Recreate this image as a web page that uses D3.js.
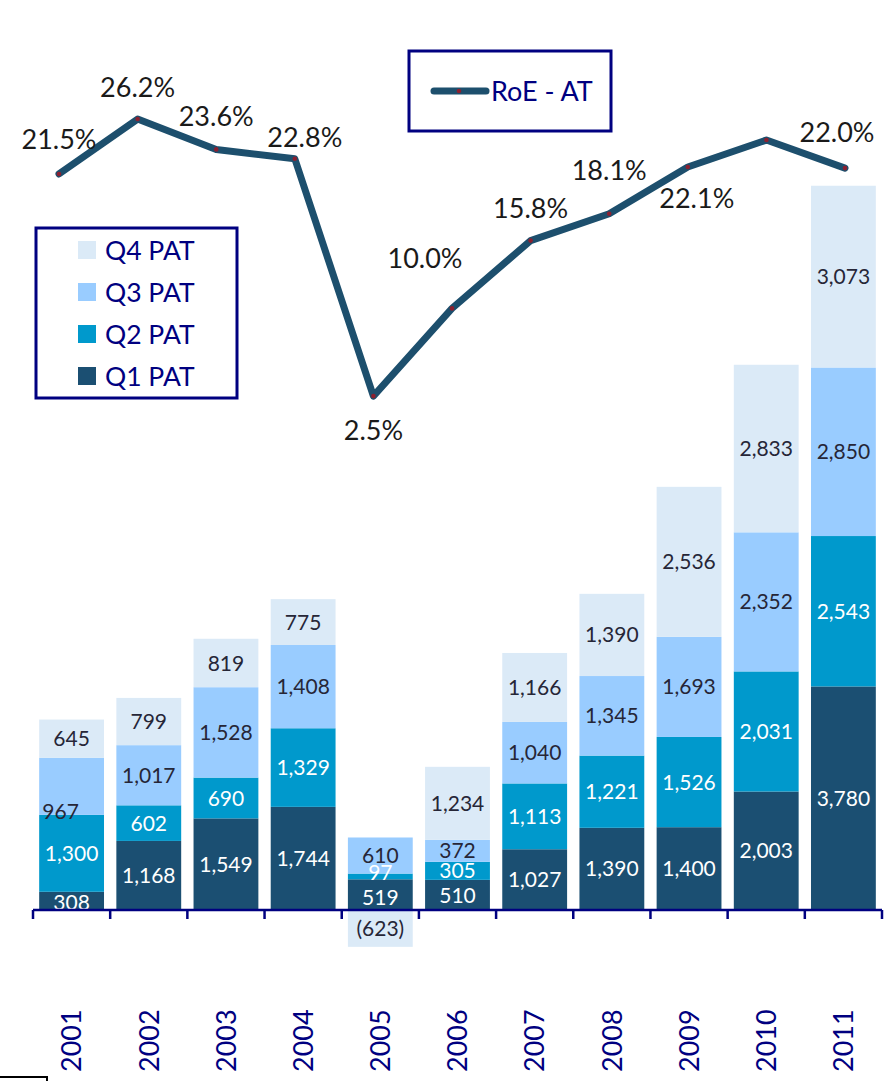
<!DOCTYPE html>
<html lang="en">
<head>
    <meta charset="UTF-8">
    <title>PAT by quarter and RoE</title>
    <style>
        body { margin: 0; background: #ffffff; }
        svg { display: block; font-family: 'Lato', 'Noto Sans', sans-serif; }
    </style>
</head>
<body>
    <div id="chart"></div>

    <script src="https://d3js.org/d3.v7.min.js"></script>
    <script>
        // Data
        const years = ['2001', '2002', '2003', '2004', '2005', '2006', '2007', '2008', '2009', '2010', '2011'];
        const q1Pat = [308, 1168, 1549, 1744, 519, 510, 1027, 1390, 1400, 2003, 3780];
        const q2Pat = [1300, 602, 690, 1329, 97, 305, 1113, 1221, 1526, 2031, 2543];
        const q3Pat = [967, 1017, 1528, 1408, 610, 372, 1040, 1345, 1693, 2352, 2850];
        const q4Pat = [645, 799, 819, 775, -623, 1234, 1166, 1390, 2536, 2833, 3073];
        const roe = [21.5, 26.2, 23.6, 22.8, 2.5, 10.0, 15.8, 18.1, 22.1, 24.4, 22.0];
        const roeLabelShown = [true, true, true, true, true, true, true, true, true, false, true];
        const seriesNames = ['Q1 PAT', 'Q2 PAT', 'Q3 PAT', 'Q4 PAT'];

        const colors = {
            'Q1 PAT': '#1b4f72',
            'Q2 PAT': '#0099cc',
            'Q3 PAT': '#99ccff',
            'Q4 PAT': '#dbeaf7'
        };
        const labelColors = {
            'Q1 PAT': '#ffffff',
            'Q2 PAT': '#ffffff',
            'Q3 PAT': '#262637',
            'Q4 PAT': '#262637'
        };
        const navy = '#000080';
        const lineColor = '#1d4f6d';

        const width = 895, height = 1081;
        const svg = d3.select('#chart').append('svg')
            .attr('width', width)
            .attr('height', height);

        // rows for stacking
        const rows = years.map((y, i) => ({
            year: y,
            'Q1 PAT': q1Pat[i],
            'Q2 PAT': q2Pat[i],
            'Q3 PAT': q3Pat[i],
            'Q4 PAT': q4Pat[i]
        }));

        const stack = d3.stack()
            .keys(seriesNames)
            .offset(d3.stackOffsetDiverging);
        const stacked = stack(rows);

        // Scales
        const x = d3.scaleBand()
            .domain(years)
            .range([33, 882])
            .paddingInner(0.16)
            .paddingOuter(0.08);

        const y = d3.scaleLinear()
            .domain([0, 14000])
            .range([910, 82]);

        const xLine = d3.scalePoint()
            .domain(years)
            .range([59, 845]);

        const yLine = d3.scaleLinear()
            .domain([0, 30])
            .range([425.3, 74.6]);

        const fmt = d3.format(',');
        const fmtPat = v => v < 0 ? '(' + fmt(-v) + ')' : fmt(v);

        // Bars
        const layers = svg.append('g').selectAll('g')
            .data(stacked)
            .enter().append('g')
            .attr('fill', d => colors[d.key]);

        layers.selectAll('rect')
            .data(d => d.map(p => ({ key: d.key, p: p })))
            .enter().append('rect')
            .attr('x', d => x(d.p.data.year))
            .attr('y', d => y(Math.max(d.p[0], d.p[1])))
            .attr('width', x.bandwidth())
            .attr('height', d => Math.abs(y(d.p[0]) - y(d.p[1])));

        // a few labels were moved by hand in the original
        const labelNudge = {
            'Q3 PAT|2001': [-11, 25],
            'Q1 PAT|2001': [0, 2],
            'Q2 PAT|2005': [0, -4],
            'Q1 PAT|2005': [0, 3],
            'Q1 PAT|2006': [0, 1]
        };

        const labels = svg.append('g')
            .attr('font-size', 21)
            .attr('text-anchor', 'middle');
        stacked.forEach(layer => {
            layer.forEach(p => {
                const yr = p.data.year;
                const v = p.data[layer.key];
                const nudge = labelNudge[layer.key + '|' + yr] || [0, 0];
                labels.append('text')
                    .attr('x', x(yr) + x.bandwidth() / 2 + nudge[0])
                    .attr('y', (y(p[0]) + y(p[1])) / 2 + nudge[1])
                    .attr('dy', '0.36em')
                    .attr('fill', labelColors[layer.key])
                    .text(fmtPat(v));
            });
        });

        // X axis: baseline with ticks between categories
        const axis = svg.append('g')
            .attr('stroke', navy)
            .attr('stroke-width', 2.5)
            .attr('fill', 'none');
        axis.append('line')
            .attr('x1', 33).attr('x2', 882)
            .attr('y1', 910).attr('y2', 910);
        d3.range(years.length + 1).forEach(i => {
            const tx = 33 + i * x.step();
            axis.append('line')
                .attr('x1', tx).attr('x2', tx)
                .attr('y1', 910).attr('y2', 919);
        });

        svg.append('g').selectAll('text')
            .data(years)
            .enter().append('text')
            .attr('transform', d => `translate(${x(d) + x.bandwidth() / 2},1072) rotate(-90)`)
            .attr('text-anchor', 'start')
            .attr('dy', '0.36em')
            .attr('font-size', 27)
            .attr('fill', navy)
            .text(d => d);

        // RoE line
        const line = d3.line()
            .x((d, i) => xLine(years[i]))
            .y(d => yLine(d));

        svg.append('path')
            .datum(roe)
            .attr('d', line)
            .attr('fill', 'none')
            .attr('stroke', lineColor)
            .attr('stroke-width', 7)
            .attr('stroke-linejoin', 'round')
            .attr('stroke-linecap', 'round');

        svg.append('g').selectAll('circle')
            .data(roe)
            .enter().append('circle')
            .attr('cx', (d, i) => xLine(years[i]))
            .attr('cy', d => yLine(d))
            .attr('r', 2.3)
            .attr('fill', '#8b2030');

        // hand placed RoE labels: [dx, dy] from the point
        const roeLabelOffset = [[0, -35], [0, -32], [0, -33], [10, -21], [0, 34],
            [-27, -50], [0, -32], [0, -43], [9, 31], [0, -35], [-8, -36]];

        svg.append('g').selectAll('text')
            .data(roe.map((v, i) => ({ v: v, i: i })).filter(d => roeLabelShown[d.i]))
            .enter().append('text')
            .attr('x', d => xLine(years[d.i]) + roeLabelOffset[d.i][0])
            .attr('y', d => yLine(d.v) + roeLabelOffset[d.i][1])
            .attr('dy', '0.36em')
            .attr('text-anchor', 'middle')
            .attr('font-size', 27)
            .attr('fill', '#1a1a1a')
            .text(d => d.v.toFixed(1) + '%');

        // RoE legend
        const lg1 = svg.append('g');
        lg1.append('rect')
            .attr('x', 409).attr('y', 51)
            .attr('width', 202).attr('height', 80)
            .attr('fill', '#ffffff')
            .attr('stroke', navy)
            .attr('stroke-width', 3);
        lg1.append('line')
            .attr('x1', 434).attr('x2', 486)
            .attr('y1', 91).attr('y2', 91)
            .attr('stroke', lineColor)
            .attr('stroke-width', 7)
            .attr('stroke-linecap', 'round');
        lg1.append('circle')
            .attr('cx', 459).attr('cy', 91).attr('r', 2.3)
            .attr('fill', '#8b2030');
        lg1.append('text')
            .attr('x', 491).attr('y', 91)
            .attr('dy', '0.36em')
            .attr('font-size', 27)
            .attr('fill', navy)
            .text('RoE - AT');

        // PAT legend (Q4 on top)
        const lg2 = svg.append('g');
        lg2.append('rect')
            .attr('x', 36).attr('y', 228)
            .attr('width', 201).attr('height', 170)
            .attr('fill', '#ffffff')
            .attr('stroke', navy)
            .attr('stroke-width', 3);
        const legendItems = seriesNames.slice().reverse();
        legendItems.forEach((name, i) => {
            const cy = 250 + i * 42;
            lg2.append('rect')
                .attr('x', 78).attr('y', cy - 9)
                .attr('width', 18).attr('height', 18)
                .attr('fill', colors[name]);
            lg2.append('text')
                .attr('x', 105).attr('y', cy)
                .attr('dy', '0.36em')
                .attr('font-size', 26.5)
                .attr('fill', navy)
                .text(name);
        });

        // stray frame corner at the bottom left
        svg.append('rect')
            .attr('x', -3).attr('y', 1077)
            .attr('width', 50).attr('height', 20)
            .attr('fill', 'none')
            .attr('stroke', '#000000')
            .attr('stroke-width', 2);
    </script>
</body>
</html>
